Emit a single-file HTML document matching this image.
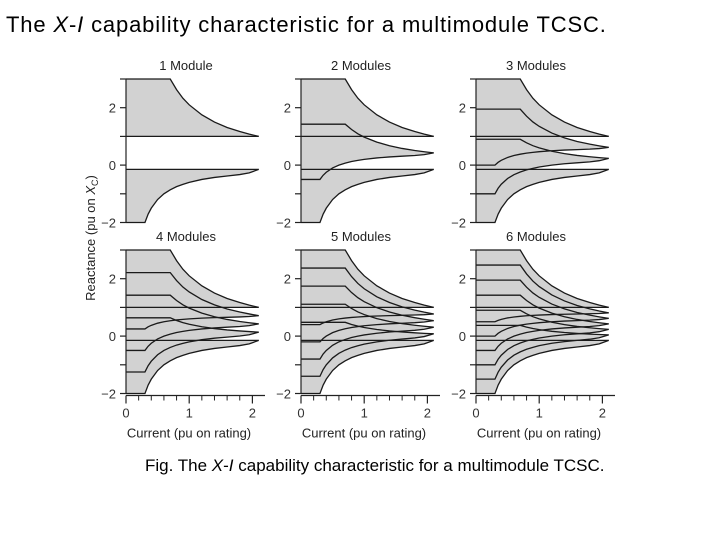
<!DOCTYPE html>
<html><head><meta charset="utf-8"><style>
body{margin:0;background:#fff;width:720px;height:540px;overflow:hidden;font-family:"Liberation Sans",Arial,sans-serif}
#title{position:absolute;left:6px;top:12px;font-size:22px;letter-spacing:0.85px;color:#000;white-space:nowrap}
#caption{position:absolute;left:145px;top:456px;font-size:17px;color:#000;white-space:nowrap}
svg{position:absolute;left:0;top:0}
</style></head><body>
<div id="title">The <i>X</i>-<i>I</i> capability characteristic for a multimodule TCSC.</div>
<div id="caption">Fig. The <i>X</i>-<i>I</i> capability characteristic for a multimodule TCSC.</div>
<svg id="chart" width="720" height="540"></svg>
<script>
const moduleCounts=[1,2,3,4,5,6];
const currents=[0,0.3,0.35,0.4,0.5,0.6,0.7,0.8,0.9,1.0,1.2,1.4,1.6,1.8,1.95,2.1];
const capMaxX=[3,3,3,3,3,3,3,2.63,2.33,2.1,1.75,1.5,1.31,1.17,1.08,1.0];
const indMinX=[-2,-2,-1.71,-1.5,-1.2,-1.0,-0.86,-0.75,-0.67,-0.6,-0.5,-0.43,-0.38,-0.33,-0.27,-0.15];
const capMinX=1.0;
const bypassX=-0.15;
const yTicks=[-2,-1,0,1,2,3];
const yTickLabels=["\u22122","","0","","2",""];
const xMajor=[0,1,2];
const xMinor=[0.2,0.4,0.6,0.8,1.2,1.4,1.6,1.8];

const NS="http://www.w3.org/2000/svg";
const svg=document.getElementById('chart');
function mk(tag,attrs,parent){const e=document.createElementNS(NS,tag);for(const k in attrs)e.setAttribute(k,attrs[k]);(parent||svg).appendChild(e);return e;}
const colX=[126,301,476], rowTop=[79,250], unitY=28.7, unitX=63.2;

moduleCounts.forEach((n,idx)=>{
  const col=idx%3,row=Math.floor(idx/3);
  const x0=colX[col],t=rowTop[row];
  const X=i=>x0+i*unitX, Y=v=>t+(3-v)*unitY;
  const g=mk('g',{});
  
  
  const regions=[];
  for(let k=0;k<=n;k++){
    const up=currents.map((c,j)=>(k*capMaxX[j]+(n-k)*bypassX)/n);
    const lo=currents.map((c,j)=>(k*capMinX+(n-k)*indMinX[j])/n);
    regions.push({k,up,lo});
  }
  regions.forEach(r=>{
    let d='M'+currents.map((c,j)=>X(c)+','+Y(r.up[j])).join('L');
    for(let j=currents.length-1;j>=0;j--)d+='L'+X(currents[j])+','+Y(r.lo[j]);
    const p=mk('path',{d:d+'Z',fill:'#d2d2d2',stroke:'none'},g);
    
    
  });
  regions.forEach(r=>{
    ['up','lo'].forEach(s=>{
      const l=mk('polyline',{points:currents.map((c,j)=>X(c)+','+Y(r[s][j])).join(' '),fill:'none',stroke:'#1a1a1a','stroke-width':1.3},g);
      
      
    });
  });
  const ax=mk('line',{x1:x0,y1:Y(3),x2:x0,y2:Y(-2),stroke:'#222','stroke-width':1.2},g);
  
  
  yTicks.forEach((v,j)=>{
    mk('line',{x1:x0-6,y1:Y(v),x2:x0,y2:Y(v),stroke:'#222','stroke-width':1.2},g);
    if(yTickLabels[j]){
      const tx=mk('text',{x:x0-10,y:Y(v)+5,'text-anchor':'end','font-size':13,fill:'#333'},g);
      tx.textContent=yTickLabels[j];
      
      
    }
  });
  const tt=mk('text',{x:x0+60,y:t-9,'text-anchor':'middle','font-size':13,fill:'#222'},g);
  tt.textContent=n+(n===1?' Module':' Modules');
  
  
  if(row===1){
    const xb=Y(-2)+2;
    const xa=mk('line',{x1:x0,y1:xb,x2:x0+139,y2:xb,stroke:'#222','stroke-width':1.2},g);
    
    
    xMajor.forEach(v=>{
      mk('line',{x1:X(v),y1:xb,x2:X(v),y2:xb+8,stroke:'#222','stroke-width':1.2},g);
      const tx=mk('text',{x:X(v),y:xb+22,'text-anchor':'middle','font-size':13,fill:'#333'},g);
      tx.textContent=String(v);
      
      
    });
    xMinor.forEach(v=>mk('line',{x1:X(v),y1:xb,x2:X(v),y2:xb+5,stroke:'#222','stroke-width':1},g));
    const xt=mk('text',{x:x0+63,y:xb+42,'text-anchor':'middle','font-size':13,fill:'#222'},g);
    xt.textContent='Current (pu on rating)';
    
    
  }
});
const yl=mk('text',{x:0,y:0,'text-anchor':'middle','font-size':13,fill:'#222',transform:'translate(95,238) rotate(-90)'});
yl.innerHTML='Reactance (pu on <tspan font-style="italic">X</tspan><tspan font-size="9" dy="3">C</tspan><tspan dy="-3">)</tspan>';


</script>
</body></html>
